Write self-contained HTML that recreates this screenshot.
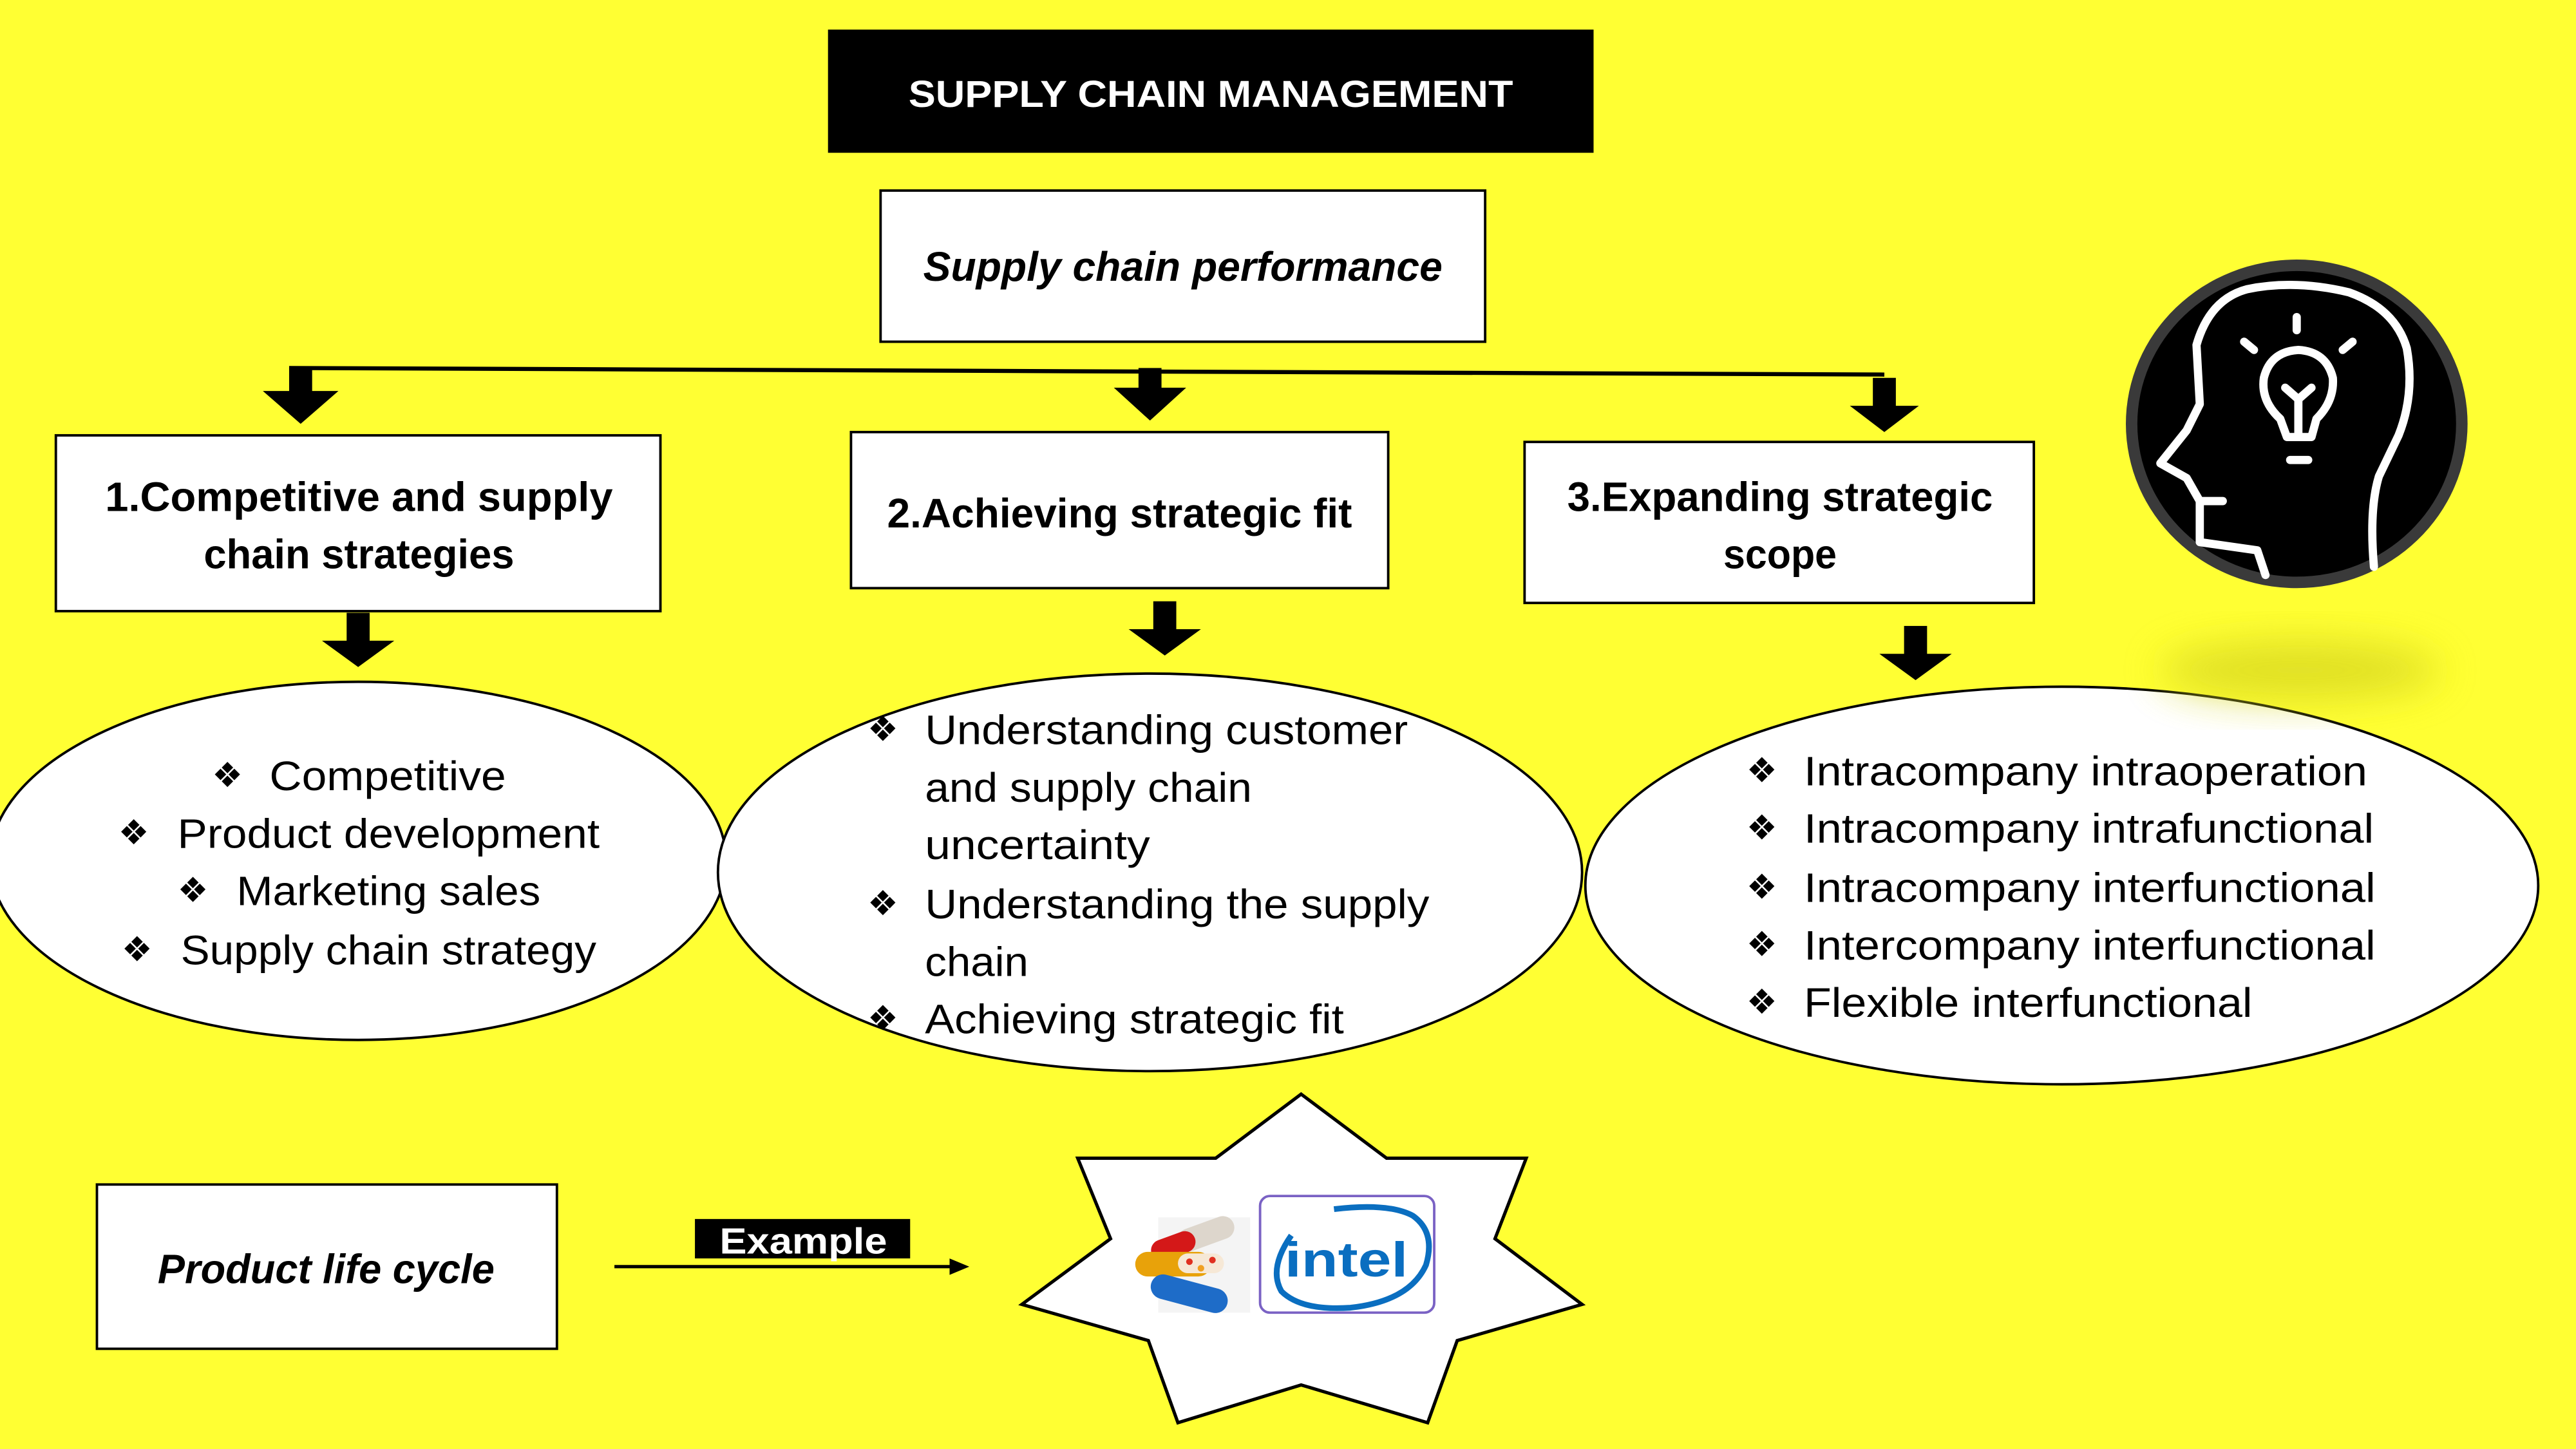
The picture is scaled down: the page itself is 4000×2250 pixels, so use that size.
<!DOCTYPE html>
<html><head><meta charset="utf-8"><style>
html,body{margin:0;padding:0;background:#ffff33;}
svg{display:block;}
text{font-family:"Liberation Sans","DejaVu Sans",sans-serif;}
.b{font-weight:bold;font-size:25px;fill:#000;}
.bi{font-weight:bold;font-style:italic;font-size:25px;fill:#000;}
.r{font-size:25px;fill:#000;}
.bul{font-family:"DejaVu Sans",sans-serif;font-size:21px;fill:#000;}
</style></head><body>
<svg width="4000" height="2250" viewBox="0 0 1568 882" xmlns="http://www.w3.org/2000/svg">
<defs>
<filter id="blur" x="-50%" y="-50%" width="200%" height="200%"><feGaussianBlur stdDeviation="12"/></filter>
</defs>
<rect x="0" y="0" width="1568" height="882" fill="#ffff33"/>

<!-- Title -->
<rect x="504" y="18" width="466" height="75" fill="#000"/>
<text x="737" y="65" text-anchor="middle" class="b" style="font-size:23px" fill="#fff" textLength="368" lengthAdjust="spacingAndGlyphs"><tspan fill="#fff">SUPPLY CHAIN MANAGEMENT</tspan></text>

<!-- performance box -->
<rect x="536" y="116" width="368" height="92" fill="#fff" stroke="#000" stroke-width="1.5"/>
<text x="562" y="171" class="bi" textLength="316" lengthAdjust="spacingAndGlyphs">Supply chain performance</text>

<!-- connector line -->
<line x1="176" y1="224" x2="1147" y2="228" stroke="#000" stroke-width="2.5"/>
<!-- arrows top -->
<g fill="#000">
<rect x="176" y="224" width="14" height="15"/><polygon points="160,238 206,238 183,258"/>
<rect x="693" y="224" width="14" height="13"/><polygon points="678,236 722,236 700,256"/>
<rect x="1140" y="230" width="14" height="18"/><polygon points="1126,247 1168,247 1147,263"/>
<rect x="211" y="373" width="14" height="18"/><polygon points="196,390 240,390 218,406"/>
<rect x="702" y="366" width="14" height="18"/><polygon points="687,383 731,383 709,399"/>
<rect x="1159" y="381" width="14" height="18"/><polygon points="1144,398 1188,398 1166,414"/>
</g>

<!-- Boxes -->
<rect x="34" y="265" width="368" height="107" fill="#fff" stroke="#000" stroke-width="1.5"/>
<text x="64" y="311" class="b" textLength="309" lengthAdjust="spacingAndGlyphs">1.Competitive and supply</text>
<text x="124" y="346" class="b" textLength="189" lengthAdjust="spacingAndGlyphs">chain strategies</text>

<rect x="518" y="263" width="327" height="95" fill="#fff" stroke="#000" stroke-width="1.5"/>
<text x="540" y="321" class="b" textLength="283" lengthAdjust="spacingAndGlyphs">2.Achieving strategic fit</text>

<rect x="928" y="269" width="310" height="98" fill="#fff" stroke="#000" stroke-width="1.5"/>
<text x="954" y="311" class="b" textLength="259" lengthAdjust="spacingAndGlyphs">3.Expanding strategic</text>
<text x="1049" y="346" class="b" textLength="69" lengthAdjust="spacingAndGlyphs">scope</text>

<!-- Ellipses -->
<ellipse cx="218" cy="524" rx="224" ry="109" fill="#fff" stroke="#000" stroke-width="1.5"/>
<ellipse cx="700" cy="531" rx="263" ry="121" fill="#fff" stroke="#000" stroke-width="1.5"/>
<ellipse cx="1255" cy="539" rx="290" ry="121" fill="#fff" stroke="#000" stroke-width="1.5"/>

<!-- Ellipse1 text -->
<text x="129" y="479" class="bul">❖</text><text x="164" y="481" class="r" textLength="144" lengthAdjust="spacingAndGlyphs">Competitive</text>
<text x="72" y="514" class="bul">❖</text><text x="108" y="516" class="r" textLength="257" lengthAdjust="spacingAndGlyphs">Product development</text>
<text x="108" y="549" class="bul">❖</text><text x="144" y="551" class="r" textLength="185" lengthAdjust="spacingAndGlyphs">Marketing sales</text>
<text x="74" y="585" class="bul">❖</text><text x="110" y="587" class="r" textLength="253" lengthAdjust="spacingAndGlyphs">Supply chain strategy</text>

<!-- Ellipse2 text -->
<text x="528" y="451" class="bul">❖</text><text x="563" y="453" class="r" textLength="294" lengthAdjust="spacingAndGlyphs">Understanding customer</text>
<text x="563" y="488" class="r" textLength="199" lengthAdjust="spacingAndGlyphs">and supply chain</text>
<text x="563" y="523" class="r" textLength="137" lengthAdjust="spacingAndGlyphs">uncertainty</text>
<text x="528" y="557" class="bul">❖</text><text x="563" y="559" class="r" textLength="307" lengthAdjust="spacingAndGlyphs">Understanding the supply</text>
<text x="563" y="594" class="r" textLength="63" lengthAdjust="spacingAndGlyphs">chain</text>
<text x="528" y="627" class="bul">❖</text><text x="563" y="629" class="r" textLength="255" lengthAdjust="spacingAndGlyphs">Achieving strategic fit</text>

<!-- Ellipse3 text -->
<text x="1063" y="476" class="bul">❖</text><text x="1098" y="478" class="r" textLength="343" lengthAdjust="spacingAndGlyphs">Intracompany intraoperation</text>
<text x="1063" y="511" class="bul">❖</text><text x="1098" y="513" class="r" textLength="347" lengthAdjust="spacingAndGlyphs">Intracompany intrafunctional</text>
<text x="1063" y="547" class="bul">❖</text><text x="1098" y="549" class="r" textLength="348" lengthAdjust="spacingAndGlyphs">Intracompany interfunctional</text>
<text x="1063" y="582" class="bul">❖</text><text x="1098" y="584" class="r" textLength="348" lengthAdjust="spacingAndGlyphs">Intercompany interfunctional</text>
<text x="1063" y="617" class="bul">❖</text><text x="1098" y="619" class="r" textLength="273" lengthAdjust="spacingAndGlyphs">Flexible interfunctional</text>

<!-- Head icon -->
<ellipse cx="1400" cy="408" rx="85" ry="18" fill="#d8d820" filter="url(#blur)" opacity="0.8"/>
<ellipse cx="1398" cy="258" rx="104" ry="100" fill="#3a3a3a"/>
<ellipse cx="1398" cy="258" rx="97" ry="93" fill="#000"/>
<g fill="none" stroke="#fff" stroke-width="5" stroke-linecap="round" stroke-linejoin="round">
<path d="M1379,350 L1374,335 L1339,330 L1339,305 L1331,291 L1315,282 L1331,262 L1339,246 L1337,210 Q1345,182 1368,176 Q1397,170 1430,178 Q1458,188 1465,212 Q1470,240 1460,265 L1448,290 Q1442,310 1445,345"/>
<path d="M1339,305 L1353,305"/>
<path d="M1388,255 Q1376,244 1378,230 Q1382,214 1399,213 Q1416,214 1420,230 Q1421,244 1410,255 L1407,266 L1392,266 Z"/>
<path d="M1399,264 L1399,243 M1399,243 L1391,236 M1399,243 L1407,236"/>
<path d="M1394,280 L1405,280"/>
<path d="M1398,193 L1398,201 M1366,208 L1372,213 M1432,208 L1426,213"/>
</g>

<!-- Product life cycle -->
<rect x="59" y="721" width="280" height="100" fill="#fff" stroke="#000" stroke-width="1.5"/>
<text x="96" y="781" class="bi" textLength="205" lengthAdjust="spacingAndGlyphs">Product life cycle</text>

<line x1="374" y1="771" x2="580" y2="771" stroke="#000" stroke-width="2"/>
<polygon points="578,766 590,771 578,776" fill="#000"/>
<rect x="423" y="742" width="131" height="24" fill="#000"/>
<text x="438" y="763" class="b" style="font-size:22px" fill="#fff" textLength="102" lengthAdjust="spacingAndGlyphs"><tspan fill="#fff">Example</tspan></text>

<!-- Star -->
<polygon points="792,666 844,705 929,705 910,754 963,794 887,816 869,866 792,843 717,866 699,816 622,794 676,754 656,705 740,705" fill="#fff" stroke="#000" stroke-width="2"/>

<!-- pills -->
<g>
<rect x="705" y="741" width="56" height="58" fill="#f4f4f4"/>
<rect x="716" y="744" width="36" height="14" rx="7" transform="rotate(-20 734 751)" fill="#ddd6cc"/>
<rect x="700" y="752" width="28" height="13" rx="6.5" transform="rotate(-20 714 758)" fill="#d41818"/>
<rect x="691" y="762" width="46" height="15" rx="7.5" fill="#e8a20a"/>
<rect x="717" y="763" width="28" height="12" rx="6" fill="#f6e8d6"/>
<circle cx="724" cy="768" r="2" fill="#e03020"/><circle cx="731" cy="772" r="2" fill="#f0a020"/><circle cx="738" cy="767" r="2" fill="#e03020"/>
<rect x="700" y="780" width="48" height="15" rx="7.5" transform="rotate(15 724 787)" fill="#1e6cc8"/>
</g>

<!-- intel -->
<rect x="767" y="728" width="106" height="71" rx="6" fill="#fff" stroke="#7a62c4" stroke-width="1.5"/>
<path d="M786,752 Q772,772 780,786 Q792,798 822,796 Q858,792 868,770 Q874,750 860,740 Q845,732 812,736" fill="none" stroke="#0a6ec0" stroke-width="3.5"/>
<text x="782" y="777" style="font-family:'Liberation Sans',sans-serif;font-size:30px;font-weight:bold;fill:#0a6ec0" textLength="75" lengthAdjust="spacingAndGlyphs">intel</text>
</svg>
</body></html>
